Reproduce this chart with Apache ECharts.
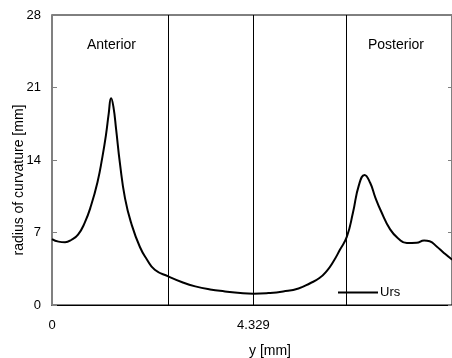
<!DOCTYPE html>
<html>
<head>
<meta charset="utf-8">
<script src="https://cdn.jsdelivr.net/npm/echarts@6/dist/echarts.min.js"></script>
<style>
html, body { margin: 0; padding: 0; background: #fff; }
#chart { width: 452px; height: 358px; }
</style>
</head>
<body>
<div id="chart"></div>
<script>
// position along the profile [mm]
var yPos = [0, 0.14, 0.28, 0.42, 0.56, 0.70, 0.84, 0.98, 1.08, 1.16, 1.22, 1.27, 1.32, 1.38, 1.46, 1.57, 1.71,
    1.89, 2.04, 2.21, 2.50, 2.80, 3.08, 3.40, 3.72, 4.05, 4.33, 4.65, 4.97, 5.30, 5.55, 5.75, 5.91, 6.05,
    6.19, 6.34, 6.47, 6.60, 6.72, 6.84, 6.95, 7.07, 7.27, 7.45, 7.63, 7.84, 8.00, 8.12, 8.27, 8.42,
    8.56, 8.62];
// radius of curvature Urs [mm]
var urs = [6.36, 6.12, 6.07, 6.3, 6.8, 7.9, 9.6, 11.9, 14.2, 16.4, 18.5, 19.96, 19.15, 16.9, 13.7, 10.3, 7.8,
    5.6, 4.4, 3.4, 2.76, 2.2, 1.8, 1.5, 1.31, 1.15, 1.09, 1.15, 1.31, 1.6, 2.1, 2.6, 3.3, 4.2,
    5.33, 6.6, 8.9, 11.6, 12.56, 11.8, 10.4, 9.1, 7.3, 6.4, 5.98, 6.0, 6.22, 6.15, 5.65, 5.05,
    4.53, 4.35];
var dividers = [2.50, 4.329, 6.33];
var yTicks = [0, 7, 14, 21, 28];

(function () {
    let chart = echarts.init(document.getElementById('chart'));

    let points = yPos.map(function (x, i) { return [x, urs[i]]; });
    let font = 'Liberation Sans, Arial, sans-serif';

    let option = {
        backgroundColor: '#fff',
        animation: false,
        grid: {
            left: 52, top: 15, right: 0, bottom: 53,
            outerBoundsMode: 'none',
            show: true,
            borderColor: '#000',
            borderWidth: 1
        },
        legend: {
            data: ['Urs'],
            left: 333,
            top: 281,
            icon: 'rect',
            itemWidth: 40,
            itemHeight: 2,
            itemGap: 2,
            textStyle: { color: '#000', fontSize: 13, fontFamily: font, padding: [0, 0, 0, -3] }
        },
        xAxis: {
            type: 'value',
            min: 0,
            max: 8.6,
            interval: 4.329,
            splitLine: { show: false },
            axisTick: { show: false },
            axisLine: { lineStyle: { color: '#000', width: 1 } },
            axisLabel: {
                color: '#000', fontSize: 13, fontFamily: font, margin: 14,
                showMaxLabel: false,
                formatter: function (v) { return v === 0 ? '0' : '4.329'; }
            }
        },
        yAxis: [{
            type: 'value',
            min: yTicks[0],
            max: yTicks[yTicks.length - 1],
            interval: 7,
            splitLine: { show: false },
            axisLine: { show: true, lineStyle: { color: '#808080', width: 2 } },
            axisTick: { show: true, inside: true, length: 5, lineStyle: { color: '#808080' } },
            axisLabel: { color: '#000', fontSize: 13, fontFamily: font, margin: 11 }
        }, {
            type: 'value',
            position: 'right',
            min: 0, max: 28, interval: 7,
            splitLine: { show: false },
            axisLine: { show: false },
            axisTick: { show: true, inside: true, length: 4, lineStyle: { color: '#808080' } },
            axisLabel: { show: false }
        }],
        graphic: [
            { type: 'text', left: 87, top: 38, style: { text: 'Anterior', fill: '#000', font: '14px ' + font } },
            { type: 'text', left: 368, top: 38, style: { text: 'Posterior', fill: '#000', font: '14px ' + font } },
            { type: 'text', left: 249, top: 344, style: { text: 'y [mm]', fill: '#000', font: '14px ' + font } },
            {
                type: 'text', x: 19, y: 180, rotation: Math.PI / 2,
                style: {
                    text: 'radius of curvature [mm]', fill: '#000', font: '14px ' + font,
                    align: 'center', verticalAlign: 'middle'
                }
            }
        ],
        series: [{
            name: 'Urs',
            type: 'line',
            data: points,
            smooth: 0.5,
            showSymbol: false,
            symbol: 'none',
            lineStyle: { color: '#000', width: 2 },
            itemStyle: { color: '#000' },
            markLine: {
                silent: true,
                symbol: 'none',
                label: { show: false },
                lineStyle: { color: '#000', width: 1, type: 'solid' },
                data: dividers.map(function (d) { return { xAxis: d }; })
            }
        }]
    };

    chart.setOption(option);
})();
</script>
</body>
</html>
